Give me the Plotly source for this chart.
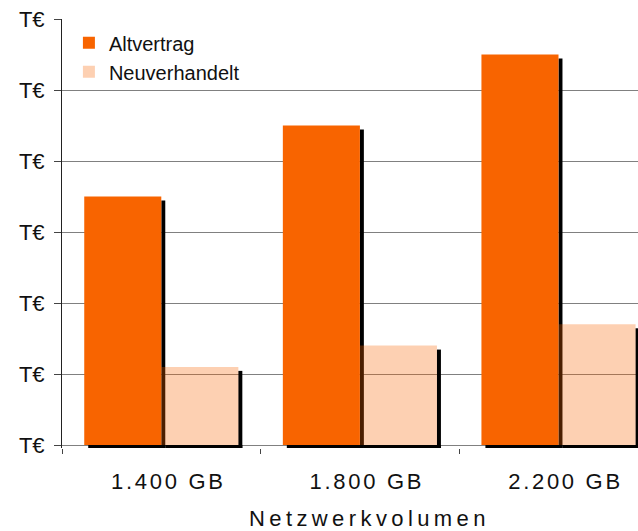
import plotly.graph_objects as go

# ---- data ----
categories = ["1.400 GB", "1.800 GB", "2.200 GB"]
altvertrag = [3.5, 4.5, 5.5]
neuverhandelt = [1.1, 1.4, 1.7]
y_tick_values = [0, 1, 2, 3, 4, 5, 6]
y_tick_labels = ["T€"] * 7
x_title = "Netzwerkvolumen"

# ---- style ----
ORANGE = "#F86400"
LIGHT = "rgba(248,100,0,0.3)"
BAR_W = 0.388
SH_DX = 0.02     # shadow shift right (category units, ~4px)
SH_DY = 0.056    # shadow shift down (value units, ~4px)

n = len(categories)
fig = go.Figure()

def shadow(values, left_offset):
    # right strip of the shadow (beside the bar)
    fig.add_trace(go.Bar(x=categories, y=values, base=[-SH_DY] * n,
                         offset=left_offset + BAR_W, width=SH_DX,
                         marker=dict(color="black", line_width=0),
                         showlegend=False, hoverinfo="skip"))
    # bottom strip of the shadow (below the bar)
    fig.add_trace(go.Bar(x=categories, y=[SH_DY] * n, base=[-SH_DY] * n,
                         offset=left_offset + SH_DX, width=BAR_W,
                         marker=dict(color="black", line_width=0),
                         showlegend=False, hoverinfo="skip"))

shadow(neuverhandelt, 0)
shadow(altvertrag, -BAR_W)

# bars
fig.add_trace(go.Bar(x=categories, y=altvertrag, name="Altvertrag",
                     offset=-BAR_W, width=BAR_W, marker=dict(color=ORANGE, line_width=0)))
fig.add_trace(go.Bar(x=categories, y=neuverhandelt, name="Neuverhandelt",
                     offset=0, width=BAR_W, marker=dict(color=LIGHT, line_width=0)))

tick_font = dict(family="Liberation Sans, Arial, sans-serif", size=22, color="#111")

fig.update_layout(
    width=638, height=531,
    margin=dict(l=62, r=0, t=19, b=83, autoexpand=False),
    paper_bgcolor="white", plot_bgcolor="white",
    barmode="overlay",
    showlegend=True,
    legend=dict(x=0.012, y=0.99, xanchor="left", yanchor="top",
                bgcolor="rgba(0,0,0,0)", traceorder="normal",
                font=dict(family="Liberation Sans, Arial, sans-serif", size=20, color="#111")),
    xaxis=dict(type="category", range=[-0.5, 2.4003], tickson="boundaries",
               ticks="outside", ticklen=5, tickcolor="#444", tickwidth=1,
               showline=False, showgrid=False, zeroline=False,
               tickvals=categories,
               ticktext=['<span style="letter-spacing:2.7px">%s</span>' % c for c in categories],
               tickfont=tick_font, ticklabelstandoff=18, ticklabelshift=7),
    yaxis=dict(range=[-3 / 71.0, 6], tickvals=y_tick_values, ticktext=y_tick_labels,
               ticks="outside", ticklen=7, tickcolor="#444", tickwidth=1,
               showline=True, linecolor="#222", linewidth=1,
               showgrid=True, gridcolor="#808080", gridwidth=1, zeroline=False,
               tickfont=tick_font, ticklabelstandoff=5),
    annotations=[dict(text='<span style="letter-spacing:4.4px">%s</span>' % x_title,
                      xref="paper", yref="paper", x=0.533, y=-0.165,
                      xanchor="center", yanchor="middle", showarrow=False,
                      font=dict(family="Liberation Sans, Arial, sans-serif", size=22, color="#111"))],
)

fig.write_html("out.html")
